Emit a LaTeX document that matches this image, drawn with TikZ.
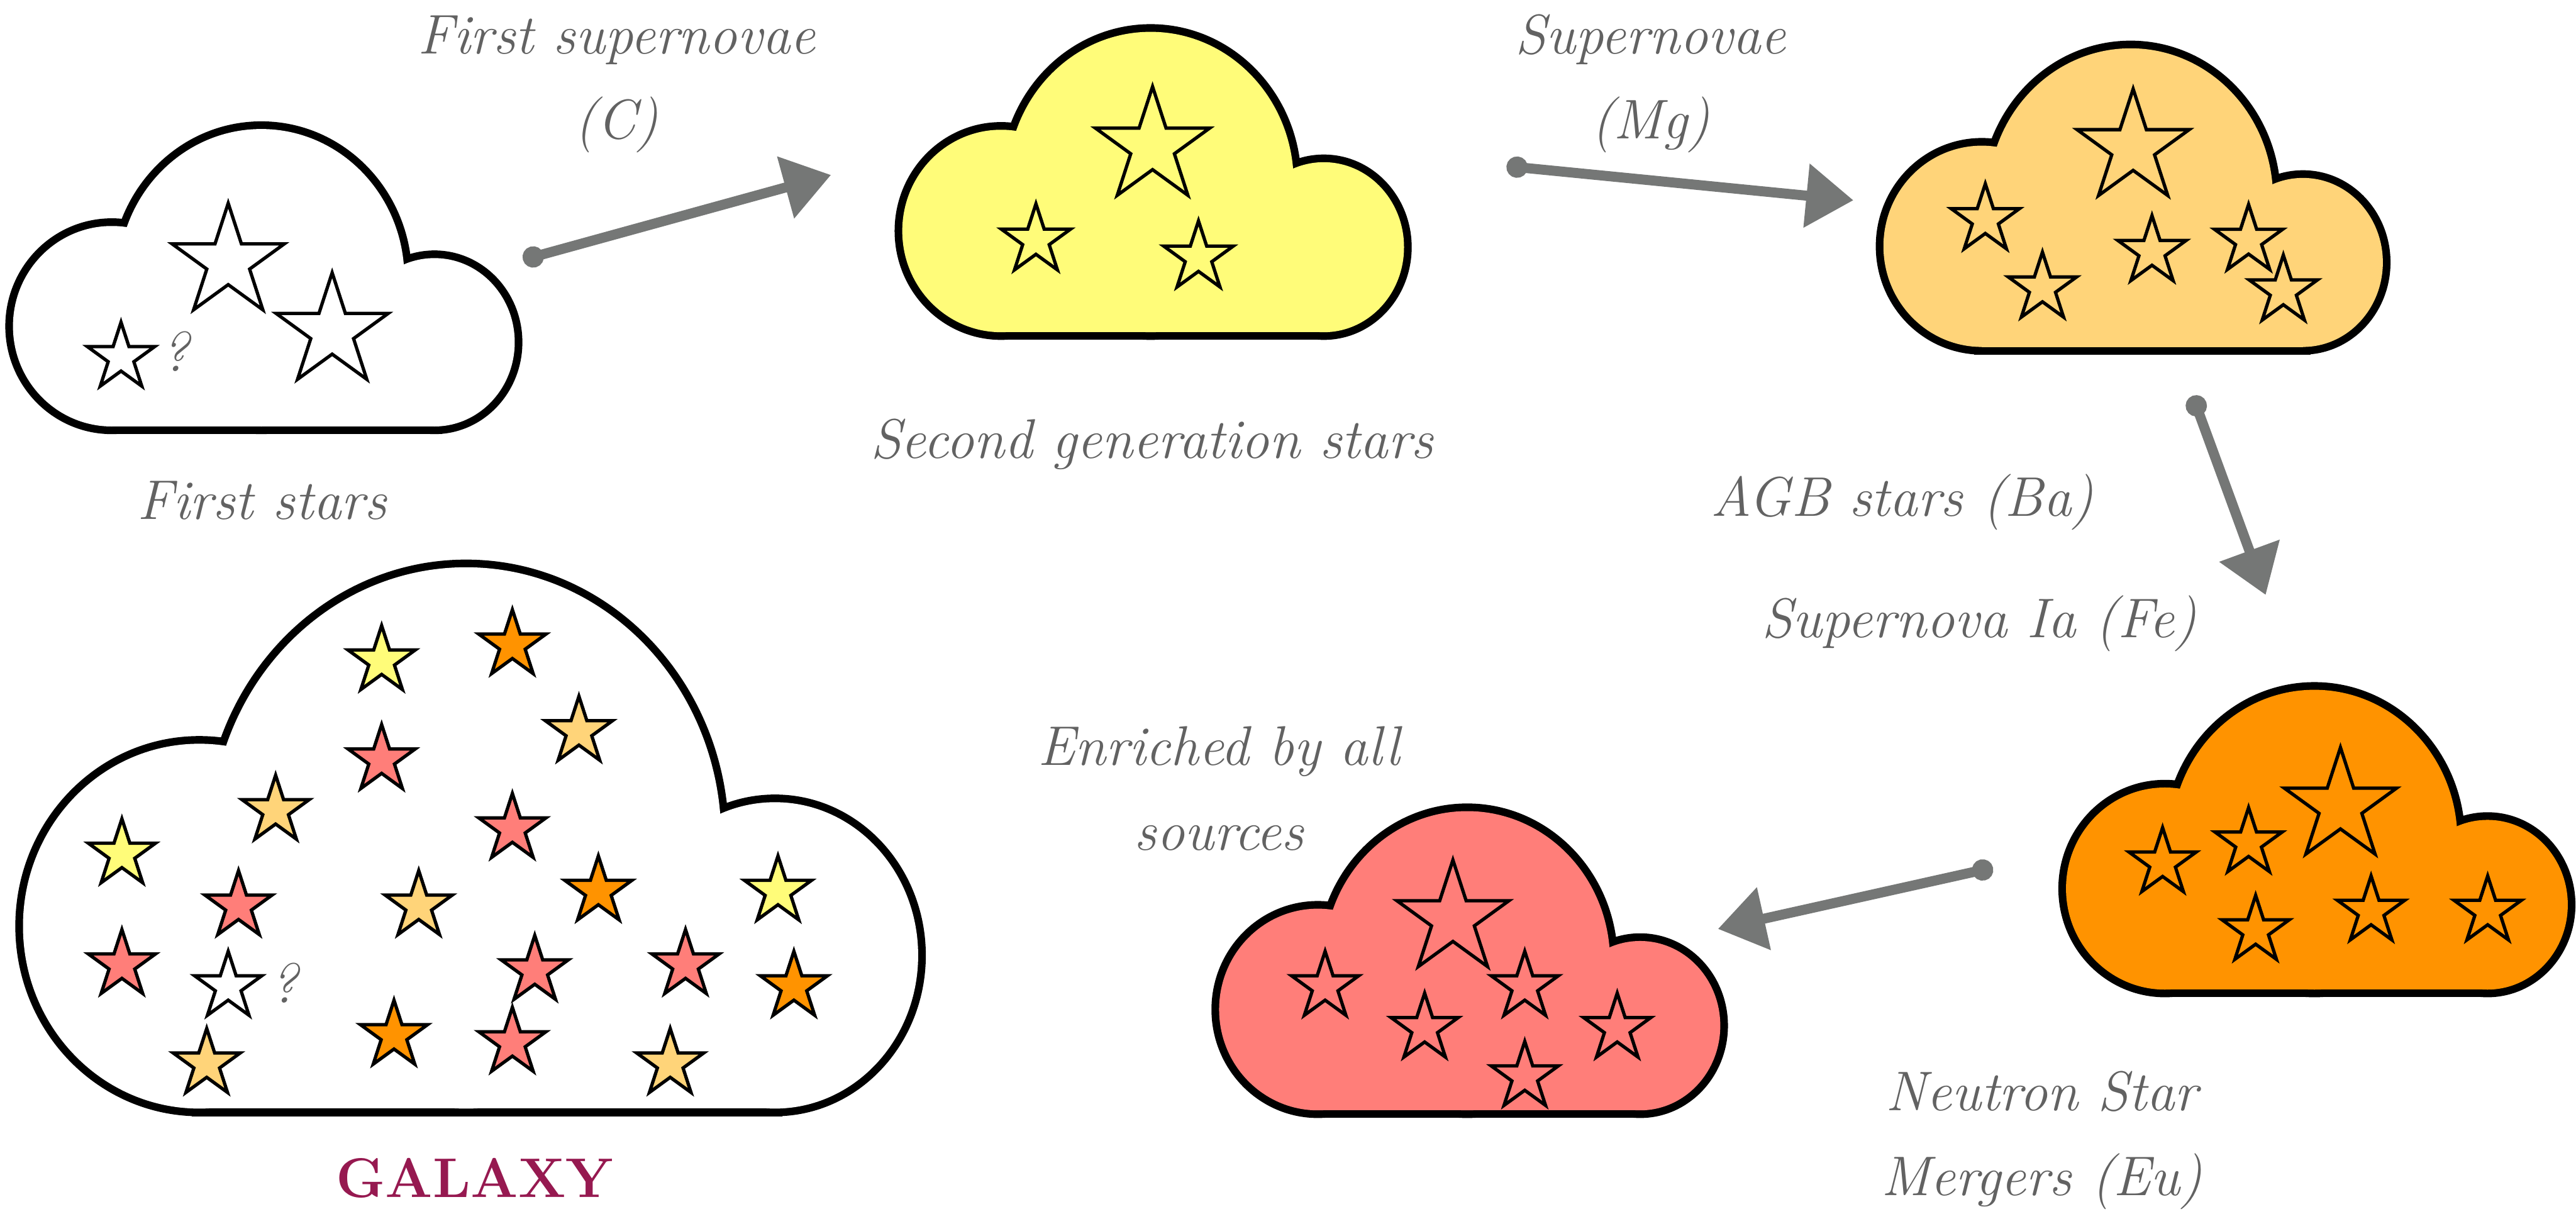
\documentclass[tikz,border=0pt]{standalone}
\usepackage{tikz}
\usetikzlibrary{arrows.meta}
\definecolor{txtgray}{RGB}{98,98,98}
\definecolor{arrowgray}{RGB}{117,119,118}
\definecolor{paleyellow}{RGB}{255,252,121}
\definecolor{lightorange}{RGB}{255,212,121}
\definecolor{deeporange}{RGB}{255,147,0}
\definecolor{salmon}{RGB}{255,126,121}
\definecolor{galaxyred}{RGB}{150,25,80}

% cloud: left, bottom, width, height, fill
\newcommand{\cloud}[5]{%
  \begin{scope}[shift={(#1,#2)}, xscale=#3, yscale=#4]
    \foreach \pass in {edge,body}{
      \path[cloud\pass=#5] (0.197,0.337) ellipse [x radius=0.197, y radius=0.337];
      \path[cloud\pass=#5] (0.495,0.5) ellipse [x radius=0.285, y radius=0.5];
      \path[cloud\pass=#5] (0.84,0.283) ellipse [x radius=0.16, y radius=0.283];
      \path[cloud\pass=#5] (0.197,0) rectangle (0.84,0.3);
    }
  \end{scope}}

% star: x, y, outer radius, fill
\newcommand{\sstar}[4]{%
  \pgfmathsetmacro{\starin}{0.382*#3}%
  \draw[starline, fill=#4, shift={(#1,#2)}] (90:#3) -- (126:\starin) -- (162:#3) -- (198:\starin) -- (234:#3)
    -- (270:\starin) -- (306:#3) -- (342:\starin) -- (18:#3) -- (54:\starin) -- cycle;}

\begin{document}
\begin{tikzpicture}[
    cloudedge/.style={draw=black, line width=0.26cm},
    cloudbody/.style={fill=#1},
    starline/.style={draw=black, line width=1.6pt, line join=miter},
    lbl/.style={font=\fontsize{27}{41}\selectfont\itshape, text=txtgray, align=center, inner sep=0pt},
    flow/.style={draw=arrowgray, line width=0.17cm, line cap=round,
        {Circle[length=0.36cm]}-{Triangle[length=0.8cm, width=1.05cm]}}
]
\useasboundingbox (0,0) rectangle (43.74,-20.60);

% clouds
\cloud{0.22}{-7.24}{8.52}{5.05}{white}
\cloud{15.32}{-5.64}{8.52}{5.10}{paleyellow}
\cloud{31.98}{-5.89}{8.48}{5.07}{lightorange}
\cloud{35.08}{-16.80}{8.52}{5.09}{deeporange}
\cloud{20.70}{-18.85}{8.51}{5.08}{salmon}
\cloud{0.39}{-18.82}{15.20}{9.19}{white}

% first stars
\sstar{3.875}{-4.45}{1.0}{white}
\sstar{5.64}{-5.63}{1.0}{white}
\sstar{2.055}{-6.07}{0.6}{white}
\node[lbl] (q1) at (2.98,-5.97) {?};

% second generation
\sstar{19.57}{-2.49}{1.02}{paleyellow}
\sstar{17.59}{-4.08}{0.62}{paleyellow}
\sstar{20.35}{-4.37}{0.62}{paleyellow}

% third cloud
\sstar{36.22}{-2.51}{1.0}{lightorange}
\foreach \x/\y in {33.71/-3.73, 34.68/-4.89, 36.54/-4.27, 38.18/-4.08, 38.77/-4.94}
    {\sstar{\x}{\y}{0.61}{lightorange}}

% fourth cloud
\sstar{39.74}{-13.69}{1.0}{deeporange}
\foreach \x/\y in {36.72/-14.65, 38.18/-14.31, 38.30/-15.80, 40.26/-15.47, 42.24/-15.47}
    {\sstar{\x}{\y}{0.6}{deeporange}}

% enriched cloud
\sstar{24.67}{-15.60}{1.0}{salmon}
\foreach \x/\y in {22.50/-16.75, 24.19/-17.46, 25.89/-16.75, 27.46/-17.46, 25.89/-18.28}
    {\sstar{\x}{\y}{0.6}{salmon}}

% galaxy
\foreach \x/\y in {6.48/-11.22, 2.07/-14.50, 13.21/-15.13}
    {\sstar{\x}{\y}{0.6}{paleyellow}}
\foreach \x/\y in {6.48/-12.90, 4.05/-15.38, 2.07/-16.38, 8.70/-14.07, 9.08/-16.48, 11.64/-16.38, 8.70/-17.70}
    {\sstar{\x}{\y}{0.6}{salmon}}
\foreach \x/\y in {4.68/-13.76, 3.51/-18.06, 7.11/-15.38, 9.83/-12.42, 11.38/-18.06}
    {\sstar{\x}{\y}{0.6}{lightorange}}
\foreach \x/\y in {6.69/-17.58, 8.70/-10.95, 10.16/-15.13, 13.48/-16.75}
    {\sstar{\x}{\y}{0.6}{deeporange}}
\sstar{3.875}{-16.75}{0.6}{white}
\node[lbl] (q2) at (4.82,-16.69) {?};

% arrows
\coordinate (firstout) at (8.88,-4.41);
\coordinate (secondin) at (14.11,-2.97);
\coordinate (secondout) at (25.58,-2.82);
\coordinate (thirdin) at (31.47,-3.40);
\coordinate (thirdout) at (37.23,-6.72);
\coordinate (fourthin) at (38.47,-10.10);
\coordinate (fourthout) at (33.84,-14.73);
\coordinate (fifthin) at (29.17,-15.77);
\draw[flow] (firstout) -- (secondin);
\draw[flow] (secondout) -- (thirdin);
\draw[flow] (thirdout) -- (fourthin);
\draw[flow] (fourthout) -- (fifthin);

% labels (base = last line)
\node[lbl, anchor=base] (lfirstsn) at (10.47,-2.35) {First supernovae\\(C)};
\node[lbl, anchor=base] (lsn) at (28.03,-2.35) {Supernovae\\(Mg)};
\node[lbl, anchor=base] (lfirst) at (4.45,-8.82) {First stars};
\node[lbl, anchor=base] (lsecond) at (19.56,-7.78) {Second generation stars};
\node[lbl, anchor=base] (lagb) at (32.30,-8.76) {AGB stars (Ba)};
\node[lbl, anchor=base] (lsnia) at (33.61,-10.82) {Supernova Ia (Fe)};
\node[lbl, anchor=base] (lall) at (20.70,-14.43) {Enriched by all\\sources};
\node[lbl, anchor=base] (lns) at (34.67,-20.29) {Neutron Star\\Mergers (Eu)};
\node[font=\fontsize{27}{30}\selectfont\bfseries, text=galaxyred, anchor=base, inner sep=0pt] (lgalaxy) at (8.06,-20.33) {GALAXY};
\end{tikzpicture}
\end{document}
